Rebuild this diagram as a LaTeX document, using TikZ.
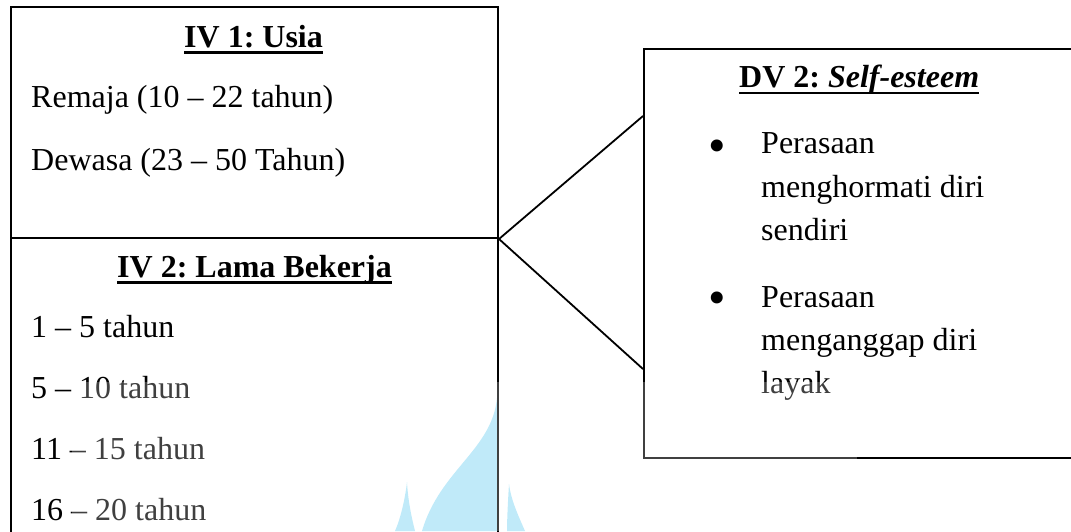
\documentclass[tikz,border=0pt]{standalone}
\usepackage{fontspec}
\setmainfont{Liberation Serif}
\frenchspacing
\begin{document}
\begin{tikzpicture}[x=1pt,y=-1pt,
  box/.style={draw=black, line width=2pt, anchor=north west, inner sep=0pt},
  conn/.style={draw=black, line width=1.8pt},
  txt/.style={inner sep=0pt, font=\fontsize{32}{38}\selectfont},
  bul/.style={inner sep=0pt, font=\fontsize{50}{56}\selectfont, anchor=base},
  uline/.style={draw=black, line width=2.6pt},
  wm/.style={fill=wmblue, draw=none}]
\definecolor{wmblue}{HTML}{ABE4F7}
\useasboundingbox (0,0) rectangle (1071,531);
\clip (0,0) rectangle (1071,531);
% watermark shapes
\fill[wm] (497,398) .. controls (492,450) and (440,470) .. (422,531) -- (499,531) -- cycle;
\fill[wm] (407,482) .. controls (405,500) and (400,520) .. (395,531) -- (415,531) .. controls (411,515) and (408,500) .. (407,482) -- cycle;
\fill[wm] (509,484) .. controls (508,500) and (507,520) .. (507,531) -- (525,531) .. controls (518,515) and (511,500) .. (509,484) -- cycle;
% boxes
\node[box, minimum width=487.5pt, minimum height=231pt] (iv1) at (9.5,6) {};
\node[box, minimum width=487.5pt, minimum height=330pt] (iv2) at (9.5,237) {};
\node[box, minimum width=460pt, minimum height=409pt] (dv) at (643,48) {};
% connectors
\coordinate (dvin1) at (643,116);
\coordinate (dvin2) at (643,369);
\draw[conn] (iv1.south east) -- (dvin1);
\draw[conn] (iv1.south east) -- (dvin2);
% IV 1
\node[txt, anchor=base west] (t1) at (184,47) {\textbf{IV 1: Usia}};
\draw[uline] ([yshift=-5.5pt]t1.base west) -- ([yshift=-5.5pt]t1.base east);
\node[txt, anchor=base west] (a1) at (31,107) {Remaja (10 – 22 tahun)};
\node[txt, anchor=base west] (a2) at (31,170) {Dewasa (23 – 50 Tahun)};
% IV 2
\node[txt, anchor=base west] (t2) at (117,277) {\textbf{IV 2: Lama Bekerja}};
\draw[uline] ([yshift=-5.5pt]t2.base west) -- ([yshift=-5.5pt]t2.base east);
\node[txt, anchor=base west] (b1) at (31,337) {1 – 5 tahun};
\node[txt, anchor=base west] (b2) at (31,398) {5 – 10 tahun};
\node[txt, anchor=base west] (b3) at (31,459) {11 – 15 tahun};
\node[txt, anchor=base west] (b4) at (31,520) {16 – 20 tahun};
% DV 2
\node[txt, anchor=base west] (t3) at (739,87) {\textbf{DV 2: \textit{Self-esteem}}};
\draw[uline] ([yshift=-6pt]t3.base west) -- ([yshift=-6pt]t3.base east);
\node[bul] (bu1) at (717,162) {\textbullet};
\node[txt, anchor=base west] (c1) at (761,153) {Perasaan};
\node[txt, anchor=base west] (c2) at (761,197) {menghormati diri};
\node[txt, anchor=base west] (c3) at (761,240) {sendiri};
\node[bul] (bu2) at (717,314) {\textbullet};
\node[txt, anchor=base west] (d1) at (761,307) {Perasaan};
\node[txt, anchor=base west] (d2) at (761,350) {menganggap diri};
\node[txt, anchor=base west] (d3) at (761,393) {layak};
% faded overlay region
\fill[white, opacity=0.25] (72,382) rectangle (857,531);
\end{tikzpicture}
\end{document}
